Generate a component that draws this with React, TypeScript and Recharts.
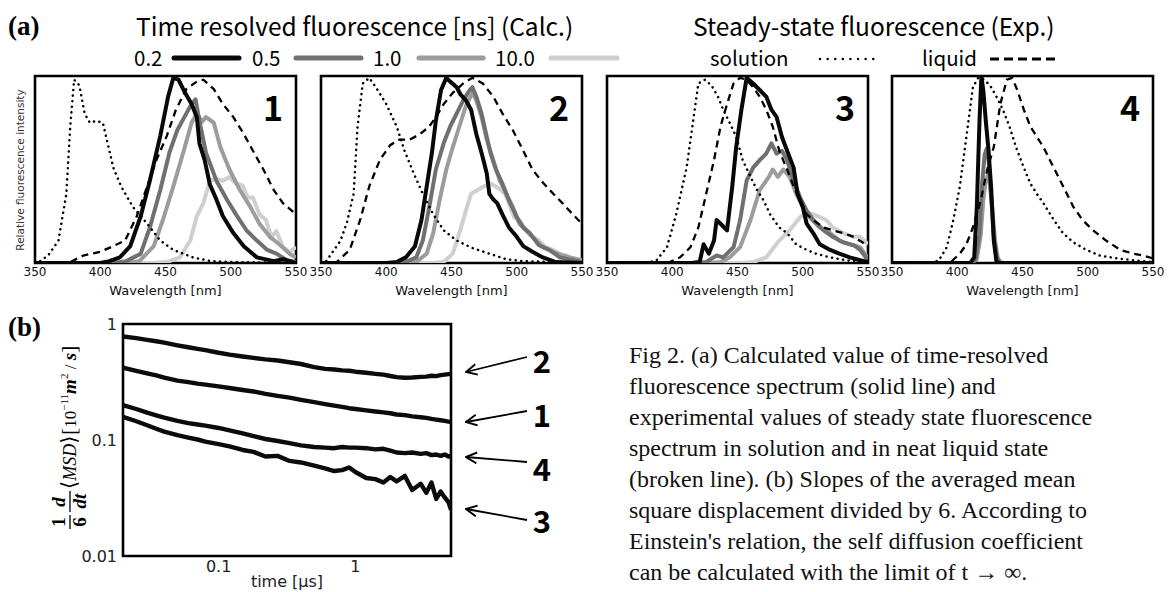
import React from 'react';
import { LineChart, Line, XAxis, YAxis, ReferenceArea } from 'recharts';

type Pt = [number, number];

// ---- (a) spectra: [wavelength nm, relative intensity] ----
const p1Solution: Pt[] = [[350, 0], [354, 0.01], [360, 0.04], [368, 0.12], [374, 0.37], [377, 0.73], [380, 0.98], [384, 0.95], [388, 0.8], [392, 0.75], [397, 0.76], [402, 0.75], [405, 0.66], [410, 0.51], [416, 0.41], [425, 0.3], [436, 0.21], [446, 0.12], [456, 0.07], [471, 0.03], [485, 0.01], [502, 0.005], [550, 0]];
const p1Liquid: Pt[] = [[350, 0], [372, 0], [377, 0.005], [387, 0.04], [400, 0.06], [410, 0.09], [419, 0.12], [428, 0.25], [436, 0.41], [443, 0.55], [451, 0.68], [458, 0.82], [466, 0.93], [474, 0.97], [479, 0.98], [487, 0.93], [494, 0.85], [502, 0.78], [510, 0.69], [517, 0.6], [525, 0.5], [533, 0.39], [540, 0.32], [550, 0.26]];
const p1T02: Pt[] = [[350, 0], [400, 0], [407, 0.01], [415, 0.03], [423, 0.09], [431, 0.25], [438, 0.44], [446, 0.68], [452, 0.89], [456, 0.99], [460, 0.98], [465, 0.91], [470, 0.85], [474, 0.78], [476, 0.64], [480, 0.55], [484, 0.42], [489, 0.34], [494, 0.25], [502, 0.16], [510, 0.09], [520, 0.03], [533, 0.01], [540, 0.02], [550, 0]];
const p1T05: Pt[] = [[350, 0], [410, 0], [420, 0.01], [431, 0.05], [438, 0.19], [446, 0.39], [453, 0.59], [459, 0.71], [466, 0.8], [470, 0.85], [473, 0.875], [476, 0.76], [481, 0.59], [489, 0.44], [497, 0.34], [504, 0.26], [512, 0.175], [520, 0.12], [528, 0.07], [535, 0.05], [543, 0.015], [550, 0.005]];
const p1T10: Pt[] = [[350, 0], [420, 0], [430, 0.01], [441, 0.09], [448, 0.23], [456, 0.41], [464, 0.6], [470, 0.75], [474, 0.8], [478, 0.755], [481, 0.78], [487, 0.75], [492, 0.62], [499, 0.5], [507, 0.39], [515, 0.3], [522, 0.21], [530, 0.14], [538, 0.095], [545, 0.05], [550, 0.03]];
const p1T100: Pt[] = [[350, 0], [440, 0], [451, 0.005], [461, 0.03], [469, 0.12], [474, 0.25], [479, 0.32], [484, 0.44], [489, 0.45], [494, 0.44], [499, 0.46], [504, 0.425], [509, 0.415], [513, 0.35], [517, 0.35], [522, 0.26], [527, 0.23], [531, 0.14], [535, 0.17], [540, 0.085], [545, 0.06], [550, 0.085]];

const p2Solution: Pt[] = [[350, 0], [354, 0.01], [365, 0.12], [370, 0.22], [375, 0.37], [378, 0.73], [382, 0.96], [387, 0.99], [392, 0.94], [400, 0.85], [408, 0.73], [414, 0.6], [421, 0.48], [428, 0.37], [436, 0.26], [444, 0.175], [454, 0.12], [466, 0.08], [479, 0.05], [492, 0.02], [505, 0.01], [550, 0]];
const p2Liquid: Pt[] = [[350, 0], [362, 0.005], [372, 0.07], [380, 0.23], [387, 0.41], [395, 0.55], [403, 0.63], [410, 0.66], [418, 0.66], [426, 0.69], [433, 0.73], [438, 0.78], [444, 0.85], [451, 0.91], [459, 0.96], [466, 0.99], [474, 0.96], [482, 0.89], [489, 0.8], [497, 0.71], [505, 0.6], [512, 0.5], [520, 0.43], [528, 0.37], [535, 0.32], [543, 0.26], [550, 0.21]];
const p2T02: Pt[] = [[350, 0], [400, 0], [408, 0.005], [415, 0.03], [422, 0.09], [427, 0.23], [431, 0.41], [435, 0.59], [438, 0.76], [442, 0.925], [446, 0.99], [449, 0.97], [454, 0.94], [457, 0.9], [461, 0.87], [465, 0.82], [469, 0.69], [473, 0.59], [477, 0.48], [479, 0.37], [482, 0.34], [485, 0.32], [489, 0.26], [494, 0.19], [500, 0.14], [505, 0.09], [512, 0.06], [520, 0.03], [530, 0.005], [550, 0]];
const p2T05: Pt[] = [[350, 0], [405, 0], [415, 0.005], [423, 0.03], [428, 0.12], [433, 0.3], [438, 0.5], [444, 0.64], [449, 0.73], [454, 0.8], [459, 0.87], [464, 0.925], [466, 0.94], [469, 0.89], [473, 0.8], [477, 0.675], [480, 0.585], [484, 0.5], [489, 0.425], [494, 0.335], [500, 0.245], [505, 0.19], [510, 0.16], [517, 0.095], [525, 0.07], [533, 0.03], [543, 0.015], [550, 0.005]];
const p2T10: Pt[] = [[350, 0], [413, 0], [423, 0.005], [431, 0.05], [436, 0.16], [441, 0.34], [446, 0.5], [451, 0.62], [456, 0.73], [461, 0.84], [466, 0.91], [469, 0.87], [473, 0.78], [477, 0.66], [482, 0.55], [487, 0.44], [492, 0.37], [497, 0.3], [502, 0.21], [507, 0.175], [512, 0.14], [520, 0.085], [528, 0.06], [535, 0.04], [543, 0.025], [550, 0.015]];
const p2T100: Pt[] = [[350, 0], [435, 0], [444, 0.005], [451, 0.05], [456, 0.16], [461, 0.28], [465, 0.37], [470, 0.39], [475, 0.41], [480, 0.425], [486, 0.4], [491, 0.37], [494, 0.32], [498, 0.245], [502, 0.23], [507, 0.175], [512, 0.14], [517, 0.12], [522, 0.085], [528, 0.07], [533, 0.05], [538, 0.04], [543, 0.025], [550, 0.015]];

const p3Solution: Pt[] = [[350, 0], [380, 0], [388, 0.015], [396, 0.085], [403, 0.26], [411, 0.51], [416, 0.76], [420, 0.96], [425, 0.98], [430, 0.95], [435, 0.89], [439, 0.82], [444, 0.75], [449, 0.675], [454, 0.55], [460, 0.46], [465, 0.39], [470, 0.335], [475, 0.26], [482, 0.19], [488, 0.16], [495, 0.1], [503, 0.07], [510, 0.05], [521, 0.03], [533, 0.015], [550, 0.005]];
const p3Liquid: Pt[] = [[350, 0], [390, 0], [398, 0.005], [406, 0.03], [414, 0.085], [420, 0.19], [426, 0.37], [432, 0.55], [437, 0.73], [442, 0.85], [447, 0.96], [452, 0.99], [457, 0.98], [462, 0.94], [467, 0.89], [472, 0.82], [477, 0.73], [482, 0.6], [488, 0.5], [493, 0.41], [498, 0.335], [503, 0.26], [508, 0.23], [516, 0.19], [523, 0.175], [531, 0.16], [539, 0.14], [546, 0.11], [550, 0.085]];
const p3T02: Pt[] = [[350, 0], [415, 0], [421, 0.005], [424, 0.1], [428, 0.05], [432, 0.12], [434, 0.23], [437, 0.21], [442, 0.175], [446, 0.41], [449, 0.62], [453, 0.82], [457, 0.99], [462, 0.96], [467, 0.925], [472, 0.89], [476, 0.82], [480, 0.78], [484, 0.675], [488, 0.6], [493, 0.51], [496, 0.37], [500, 0.3], [503, 0.21], [508, 0.16], [513, 0.1], [521, 0.07], [528, 0.05], [536, 0.03], [544, 0.015], [550, 0.005]];
const p3T05: Pt[] = [[350, 0], [415, 0], [426, 0.005], [434, 0.04], [439, 0.03], [447, 0.085], [452, 0.23], [457, 0.44], [462, 0.51], [467, 0.55], [472, 0.585], [476, 0.64], [480, 0.585], [484, 0.6], [488, 0.55], [493, 0.44], [498, 0.35], [503, 0.28], [508, 0.23], [516, 0.175], [523, 0.14], [531, 0.11], [539, 0.095], [544, 0.07], [550, 0.015]];
const p3T10: Pt[] = [[350, 0], [428, 0], [437, 0.005], [444, 0.03], [452, 0.085], [460, 0.23], [467, 0.39], [474, 0.46], [477, 0.5], [481, 0.46], [485, 0.5], [490, 0.46], [495, 0.37], [500, 0.3], [505, 0.245], [513, 0.19], [521, 0.16], [528, 0.12], [536, 0.1], [544, 0.085], [550, 0.025]];
const p3T100: Pt[] = [[350, 0], [452, 0], [462, 0.005], [472, 0.03], [482, 0.12], [490, 0.175], [498, 0.245], [503, 0.27], [508, 0.26], [513, 0.245], [518, 0.23], [523, 0.19], [531, 0.16], [539, 0.14], [544, 0.14], [550, 0.1]];

const p4Solution: Pt[] = [[350, 0], [380, 0], [386, 0.015], [392, 0.085], [397, 0.23], [402, 0.41], [407, 0.675], [412, 0.94], [416, 0.99], [421, 0.98], [426, 0.94], [430, 0.89], [435, 0.82], [440, 0.73], [445, 0.62], [451, 0.51], [456, 0.425], [461, 0.37], [466, 0.32], [474, 0.23], [481, 0.16], [489, 0.11], [499, 0.07], [509, 0.04], [522, 0.025], [535, 0.015], [550, 0.005]];
const p4Liquid: Pt[] = [[350, 0], [388, 0], [395, 0.005], [402, 0.05], [407, 0.1], [412, 0.19], [418, 0.335], [423, 0.5], [428, 0.62], [433, 0.85], [438, 0.98], [442, 0.99], [446, 0.925], [451, 0.82], [456, 0.73], [461, 0.675], [466, 0.62], [471, 0.55], [479, 0.44], [484, 0.37], [489, 0.3], [496, 0.23], [504, 0.175], [514, 0.12], [525, 0.07], [535, 0.05], [542, 0.04], [550, 0.025]];
const p4T02: Pt[] = [[350, 0], [410, 0], [413, 0.03], [415, 0.3], [417, 0.75], [418.5, 1.0], [420, 0.92], [422, 0.75], [424, 0.6], [426, 0.4], [428, 0.12], [430, 0.01], [432, 0], [550, 0]];
const p4T05: Pt[] = [[350, 0], [410, 0], [414, 0.02], [417, 0.15], [419, 0.42], [421, 0.58], [422.5, 0.61], [424, 0.55], [426, 0.35], [428, 0.15], [430, 0.04], [432, 0.005], [434, 0], [550, 0]];
const p4T10: Pt[] = [[350, 0], [411, 0], [415, 0.02], [418, 0.15], [420, 0.34], [422, 0.45], [423.5, 0.47], [425, 0.42], [427, 0.28], [429, 0.12], [431, 0.03], [433, 0.005], [435, 0], [550, 0]];
const p4T100: Pt[] = [];

const wlTicks = [350, 400, 450, 500, 550];
const calcLabels = ['0.2', '0.5', '1.0', '10.0'];
const calcColors = ['#080808', '#707070', '#9c9c9c', '#cfcfcf'];

// ---- (b) MSD slopes ----
const msdTime = [0.02, 0.025, 0.03, 0.035, 0.04, 0.05, 0.06, 0.07, 0.08, 0.1, 0.12, 0.15, 0.18, 0.22, 0.27, 0.33, 0.4, 0.5, 0.6, 0.7, 0.8, 0.9, 1.0, 1.2, 1.4, 1.6, 1.8, 2.0, 2.3, 2.6, 3.0, 3.3, 3.6, 3.9, 4.2, 4.5, 4.8, 5.0];
const msd1 = [0.42, 0.395, 0.375, 0.36, 0.345, 0.325, 0.315, 0.306, 0.3, 0.29, 0.281, 0.27, 0.262, 0.25, 0.24, 0.232, 0.222, 0.212, 0.204, 0.198, 0.193, 0.188, 0.185, 0.18, 0.176, 0.173, 0.17, 0.166, 0.164, 0.16, 0.157, 0.155, 0.152, 0.15, 0.148, 0.146, 0.144, 0.143];
const msd2 = [0.78, 0.755, 0.73, 0.71, 0.69, 0.655, 0.63, 0.61, 0.595, 0.565, 0.545, 0.525, 0.51, 0.495, 0.485, 0.468, 0.452, 0.425, 0.41, 0.405, 0.398, 0.395, 0.388, 0.38, 0.372, 0.366, 0.356, 0.348, 0.344, 0.346, 0.35, 0.352, 0.358, 0.355, 0.362, 0.366, 0.37, 0.372];
const msd3 = [0.158, 0.145, 0.134, 0.125, 0.118, 0.11, 0.105, 0.101, 0.097, 0.092, 0.088, 0.082, 0.079, 0.072, 0.073, 0.066, 0.064, 0.06, 0.057, 0.054, 0.055, 0.058, 0.053, 0.047, 0.046, 0.043, 0.048, 0.044, 0.049, 0.037, 0.042, 0.035, 0.043, 0.031, 0.036, 0.032, 0.029, 0.025];
const msd4 = [0.2, 0.185, 0.172, 0.163, 0.156, 0.146, 0.14, 0.136, 0.133, 0.127, 0.121, 0.114, 0.108, 0.102, 0.098, 0.094, 0.09, 0.087, 0.086, 0.085, 0.087, 0.086, 0.086, 0.085, 0.083, 0.084, 0.081, 0.078, 0.077, 0.078, 0.076, 0.077, 0.074, 0.075, 0.073, 0.075, 0.072, 0.073];
const msdKeys = ['c1', 'c2', 'c3', 'c4'];

const captionLines = [
  'Fig 2. (a) Calculated value of time-resolved',
  'fluorescence spectrum (solid line) and',
  'experimental values of steady state fluorescence',
  'spectrum in solution and in neat liquid state',
  '(broken line). (b) Slopes of the averaged mean',
  'square displacement divided by 6. According to',
  "Einstein's relation, the self diffusion coefficient",
  'can be calculated with the limit of t \u2192 \u221e.',
];

const panels = [
  { num: '1', solution: p1Solution, liquid: p1Liquid, calc: [p1T02, p1T05, p1T10, p1T100] },
  { num: '2', solution: p2Solution, liquid: p2Liquid, calc: [p2T02, p2T05, p2T10, p2T100] },
  { num: '3', solution: p3Solution, liquid: p3Liquid, calc: [p3T02, p3T05, p3T10, p3T100] },
  { num: '4', solution: p4Solution, liquid: p4Liquid, calc: [p4T02, p4T05, p4T10, p4T100] },
];

const msdRows = msdTime.map((t, i) => ({ t, c1: msd1[i], c2: msd2[i], c3: msd3[i], c4: msd4[i] }));
const toXY = (pts: Pt[]) => pts.map(([x, y]) => ({ x, y }));

const SANS = '"Noto Sans CJK JP", "Noto Sans", sans-serif';
const DJV = '"DejaVu Sans", sans-serif';
const SERIF = '"Liberation Serif", "DejaVu Serif", serif';

// layout of the four spectrum frames
const PANEL_LEFT = [35, 321, 607, 892];
const BOX_W = 261;
const BOX_TOP = 76;
const BOX_H = 187;
const PM = 16;
const AXIS_H = 44;

const SpectrumPanel: React.FC<{ left: number; panel: typeof panels[number] }> = ({ left, panel }) => (
  <div style={{ position: 'absolute', left: left - PM, top: BOX_TOP - 4 }}>
    <LineChart width={BOX_W + 2 * PM} height={4 + BOX_H + AXIS_H} margin={{ top: 4, right: PM, bottom: 0, left: PM }}>
      <XAxis
        type="number"
        dataKey="x"
        domain={[350, 550]}
        ticks={wlTicks}
        interval={0}
        allowDataOverflow
        height={AXIS_H}
        tickLine={false}
        axisLine={false}
        tickSize={2}
        tick={{ fontSize: 12, fill: '#111', fontFamily: DJV }}
        label={{ value: 'Wavelength [nm]', position: 'insideBottom', offset: 12, fontSize: 13, fill: '#111', fontFamily: DJV }}
      />
      <YAxis type="number" dataKey="y" domain={[0, 1]} hide allowDataOverflow />
      {panel.calc
        .map((pts, i) => ({ pts, i }))
        .reverse()
        .filter(({ pts }) => pts.length > 0)
        .map(({ pts, i }) => (
          <Line
            key={calcLabels[i]}
            data={toXY(pts)}
            dataKey="y"
            type="linear"
            stroke={calcColors[i]}
            strokeWidth={4}
            strokeLinejoin="round"
            dot={false}
            isAnimationActive={false}
          />
        ))}
      <Line data={toXY(panel.solution)} dataKey="y" type="linear" stroke="#000" strokeWidth={2.5} strokeDasharray="0.1 5.5" strokeLinecap="round" dot={false} isAnimationActive={false} />
      <Line data={toXY(panel.liquid)} dataKey="y" type="linear" stroke="#000" strokeWidth={2.3} strokeDasharray="7 5" dot={false} isAnimationActive={false} />
      <ReferenceArea x1={350} x2={550} y1={0} y2={1} fill="none" fillOpacity={0} stroke="#000" strokeWidth={2.6} ifOverflow="visible" />
    </LineChart>
  </div>
);

const MsdChart: React.FC = () => (
  <div style={{ position: 'absolute', left: 53, top: 312 }}>
    <LineChart width={412} height={284} data={msdRows} margin={{ top: 12, right: 14, bottom: 0, left: 0 }}>
      <XAxis
        type="number"
        dataKey="t"
        scale="log"
        domain={[0.02, 5]}
        ticks={[0.1, 1]}
        allowDataOverflow
        height={40}
        tickLine={false}
        axisLine={false}
        tickSize={3}
        tick={{ fontSize: 16, fill: '#222', fontFamily: DJV }}
        tickFormatter={(v: number) => String(v)}
        label={{ value: 'time [\u03bcs]', position: 'insideBottom', offset: 9, fontSize: 16, fill: '#222', fontFamily: DJV }}
      />
      <YAxis
        type="number"
        scale="log"
        domain={[0.01, 1]}
        ticks={[0.01, 0.1, 1]}
        allowDataOverflow
        width={70}
        tickLine={false}
        axisLine={false}
        tickSize={4}
        tick={{ fontSize: 16, fill: '#222', fontFamily: DJV }}
        tickFormatter={(v: number) => String(v)}
      />
      {msdKeys.map((k) => (
        <Line key={k} dataKey={k} type="linear" stroke="#0b0b0b" strokeWidth={4.4} strokeLinejoin="round" dot={false} isAnimationActive={false} />
      ))}
      <ReferenceArea x1={0.02} x2={5} y1={0.01} y2={1} fill="none" fillOpacity={0} stroke="#000" strokeWidth={2.6} ifOverflow="visible" />
    </LineChart>
  </div>
);

// arrow annotations for (b): [label, label centre y, tail y, head y]
const msdArrows: [string, number, number, number][] = [
  ['2', 359, 357, 372],
  ['1', 413, 411, 422],
  ['4', 467, 462, 457],
  ['3', 519, 520, 509],
];

const headerLegend = [
  { text: calcLabels[0], x: 134, x1: 174, x2: 239 },
  { text: calcLabels[1], x: 252, x1: 296, x2: 361 },
  { text: calcLabels[2], x: 373, x1: 419, x2: 483 },
  { text: calcLabels[3], x: 495, x1: 551, x2: 617 },
];

const Overlay: React.FC = () => (
  <svg width={1169} height={592} style={{ position: 'absolute', left: 0, top: 0, pointerEvents: 'none' }}>
    <defs>
      <marker id="ah" viewBox="0 0 12 12" refX="11" refY="6" markerWidth="13" markerHeight="13" markerUnits="userSpaceOnUse" orient="auto">
        <path d="M1,1 L11,6 L1,11" fill="none" stroke="#000" strokeWidth={1.8} />
      </marker>
    </defs>
    {/* header (a) */}
    <text x={8} y={26} dominantBaseline="central" fontFamily={SERIF} fontWeight={700} fontSize={27}>(a)</text>
    <text x={136} y={25} dominantBaseline="central" fontFamily={SANS} fontSize={24.5}>Time resolved fluorescence [ns] (Calc.)</text>
    <text x={693} y={25} dominantBaseline="central" fontFamily={SANS} fontSize={24.5}>Steady-state fluorescence (Exp.)</text>
    {headerLegend.map((h, i) => (
      <g key={h.text}>
        <text x={h.x} y={57} dominantBaseline="central" fontFamily={SANS} fontSize={20.5}>{h.text}</text>
        <line x1={h.x1} x2={h.x2} y1={58} y2={58} stroke={calcColors[i]} strokeWidth={5} strokeLinecap="round" />
      </g>
    ))}
    <text x={710} y={57} dominantBaseline="central" fontFamily={SANS} fontSize={20.5}>solution</text>
    <line x1={820} x2={877} y1={59} y2={59} stroke="#000" strokeWidth={2.4} strokeDasharray="0.1 7.5" strokeLinecap="round" />
    <text x={922} y={57} dominantBaseline="central" fontFamily={SANS} fontSize={20.5}>liquid</text>
    <line x1={990} x2={1056} y1={59} y2={59} stroke="#000" strokeWidth={3} strokeDasharray="9 5" />
    {/* panel numbers */}
    {panels.map((p, i) => (
      <text key={p.num} x={PANEL_LEFT[i] + BOX_W - 13} y={106} textAnchor="end" dominantBaseline="central" fontFamily={SANS} fontWeight={700} fontSize={34}>{p.num}</text>
    ))}
    <text transform="translate(20,170) rotate(-90)" textAnchor="middle" dominantBaseline="central" fontFamily={DJV} fontSize={10.5} fill="#333">Relative fluorescence intensity</text>
    {/* (b) */}
    <text x={8} y={327} dominantBaseline="central" fontFamily={SERIF} fontWeight={700} fontSize={27}>(b)</text>
    <g transform="translate(70,438) rotate(-90)" fontFamily={SERIF} fontWeight={700} fontSize={19}>
      <text x={-84} y={-5} textAnchor="middle">1</text>
      <line x1={-91} x2={-77} y1={0} y2={0} stroke="#000" strokeWidth={1.3} />
      <text x={-84} y={16} textAnchor="middle">6</text>
      <text x={-64} y={-5} textAnchor="middle" fontStyle="italic">d</text>
      <line x1={-74} x2={-53} y1={0} y2={0} stroke="#000" strokeWidth={1.3} />
      <text x={-63} y={16} textAnchor="middle" fontStyle="italic">dt</text>
      <text x={-51} y={6} fontWeight={400} fontSize={21}>{'\u27e8'}<tspan fontStyle="italic" fontSize={18}>MSD</tspan>{'\u27e9'}</text>
      <text x={3} y={6} fontWeight={400} fontSize={22}>[<tspan fontSize={17}>10</tspan><tspan fontSize={11} dy={-8}>{'\u221211'}</tspan><tspan dy={8} fontSize={19} fontStyle="italic" fontWeight={700}>m</tspan><tspan fontSize={11} dy={-8}>2</tspan><tspan dy={8} fontSize={17}> / </tspan><tspan fontSize={19} fontStyle="italic" fontWeight={700}>s</tspan>]</text>
    </g>
    {msdArrows.map(([lab, ly, ty, hy]) => (
      <g key={lab}>
        <line x1={527} y1={ty} x2={466} y2={hy} stroke="#000" strokeWidth={1.8} markerEnd="url(#ah)" />
        <text x={542} y={ly} textAnchor="middle" dominantBaseline="central" fontFamily={SANS} fontWeight={700} fontSize={31}>{lab}</text>
      </g>
    ))}
    {/* caption */}
    {captionLines.map((ln, i) => (
      <text key={i} x={629} y={355 + i * 31} dominantBaseline="central" fontFamily={SERIF} fontSize={24} fill="#111">{ln}</text>
    ))}
  </svg>
);

export default function App() {
  return (
    <div style={{ position: 'absolute', left: 0, top: 0, width: 1169, height: 592, overflow: 'hidden', background: '#fff' }}>
      {panels.map((p, i) => (
        <SpectrumPanel key={p.num} left={PANEL_LEFT[i]} panel={p} />
      ))}
      <MsdChart />
      <Overlay />
    </div>
  );
}
